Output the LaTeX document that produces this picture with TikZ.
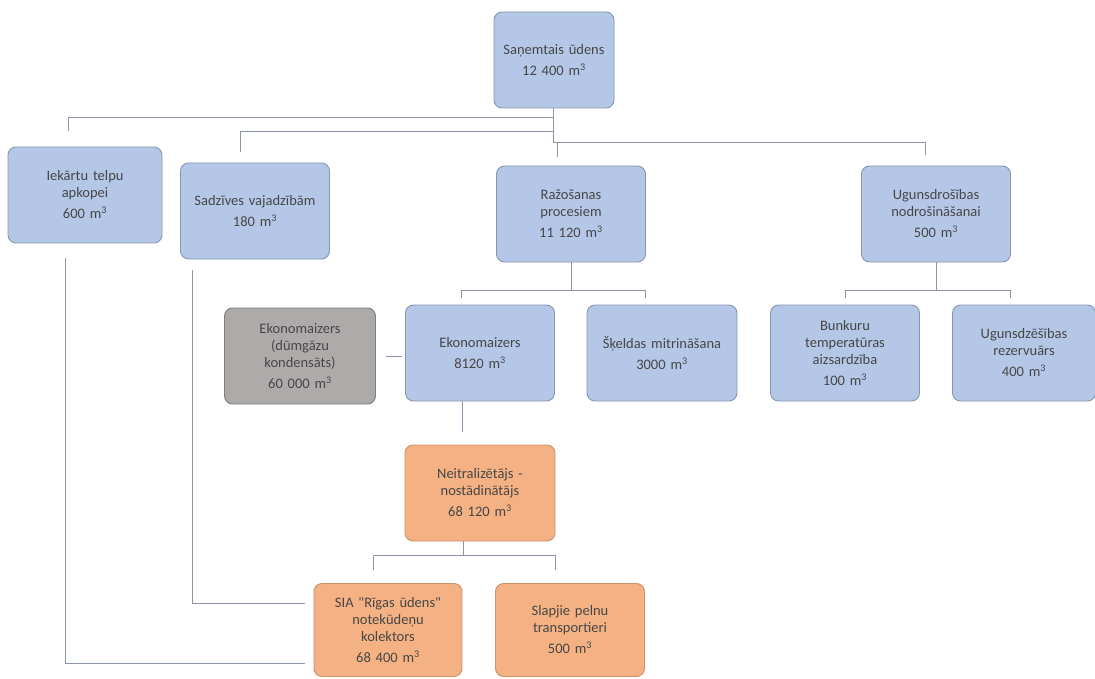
\documentclass[tikz,border=0pt]{standalone}
\usepackage{fontspec}
\setmainfont{Carlito}
\newcommand{\mcub}{m\textsuperscript{3}}
\begin{document}
\begin{tikzpicture}[x=1pt,y=-1pt,
  box/.style={draw, rounded corners=8pt, line width=0.9pt, minimum width=149pt, minimum height=96pt,
    align=center, text width=144pt, font=\fontsize{14.5}{17}\selectfont, text=black!72, inner sep=2pt},
  bluebox/.style={box, fill=blueF, draw=blueD},
  orbox/.style={box, fill=orF, draw=orD},
  graybox/.style={box, fill=grF, draw=grD},
  conn/.style={draw=lineC, line width=1pt}]
\definecolor{blueF}{HTML}{B4C7E7}
\definecolor{blueD}{HTML}{8497B0}
\definecolor{orF}{HTML}{F4B183}
\definecolor{orD}{HTML}{C9936A}
\definecolor{grF}{HTML}{AEAAAA}
\definecolor{grD}{HTML}{7F7F7F}
\definecolor{lineC}{HTML}{8C96A8}
\useasboundingbox (0,0) rectangle (1095,679);
\fill[white] (0,0) rectangle (1095,679);

\node[bluebox, minimum width=120pt, text width=116pt] (top) at (554,60) {Saņemtais ūdens\\[4pt]12 400 \mcub};
\node[bluebox, minimum width=154pt] (iek) at (85,195) {Iekārtu telpu\\apkopei\\[4pt]600 \mcub};
\node[bluebox] (sad) at (255,211) {Sadzīves vajadzībām\\[4pt]180 \mcub};
\node[bluebox] (raz) at (571,214) {Ražošanas\\procesiem\\[4pt]11 120 \mcub};
\node[bluebox] (ugn) at (936,214) {Ugunsdrošības\\nodrošināšanai\\[4pt]500 \mcub};
\node[graybox, minimum width=151pt] (ekg) at (300,356) {Ekonomaizers\\(dūmgāzu\\kondensāts)\\[4pt]60 000 \mcub};
\node[bluebox] (eko) at (480,353) {Ekonomaizers\\[4pt]8120 \mcub};
\node[bluebox, minimum width=150pt] (ske) at (662,353) {Šķeldas mitrināšana\\[4pt]3000 \mcub};
\node[bluebox] (bun) at (845,353) {Bunkuru\\temperatūras\\aizsardzība\\[4pt]100 \mcub};
\node[bluebox, minimum width=143pt, text width=138pt] (rez) at (1024,353) {Ugunsdzēšības\\rezervuārs\\[4pt]400 \mcub};
\node[orbox, minimum width=150pt] (nei) at (480,493) {Neitralizētājs -\\nostādinātājs\\[4pt]68 120 \mcub};
\node[orbox, minimum width=147pt, minimum height=93pt] (sia) at (388,630) {SIA \textquotedbl Rīgas ūdens\textquotedbl\\notekūdeņu\\kolektors\\[4pt]68 400 \mcub};
\node[orbox, minimum height=93pt] (sla) at (570,630) {Slapjie pelnu\\transportieri\\[4pt]500 \mcub};

% free ends of connectors
\coordinate (a1) at (553,143);
\coordinate (a2) at (553,118);
\coordinate (a3) at (553,132);
\coordinate (iekE) at (68,131);
\coordinate (sadE) at (240,152);
\coordinate (razE) at (557,157);
\coordinate (ugnE) at (925,155);

\draw[conn] (top.south -| a1) -- (a1) -| (ugnE);
\draw[conn] (a1 -| razE) -- (razE);
\draw[conn] (a2) -| (iekE);
\draw[conn] (a3) -| (sadE);

% Ražošanas branch
\coordinate (rj) at (571,290);
\draw[conn] (raz.south) -- (rj);
\draw[conn] (461,298) |- (645,290) -- (645,298);

% Ugunsdrošības branch
\coordinate (uj) at (936,290);
\draw[conn] (ugn.south) -- (uj);
\draw[conn] (845,298) |- (1010,290) -- (1010,298);

% Ekonomaizers links
\draw[conn] (386,356) -- (402,356);
\coordinate (ekE) at (462,432);
\draw[conn] (eko.south -| ekE) -- (ekE);

% Neitralizētājs branch
\coordinate (nj) at (463,555);
\draw[conn] (nei.south -| nj) -- (nj);
\draw[conn] (373,570) |- (555,555) -- (555,570);

% long lines to the collector
\coordinate (sadS) at (192,270);
\coordinate (iekS) at (65,258);
\draw[conn] (sadS) |- (305,603);
\draw[conn] (iekS) |- (305,663);
\end{tikzpicture}
\end{document}
